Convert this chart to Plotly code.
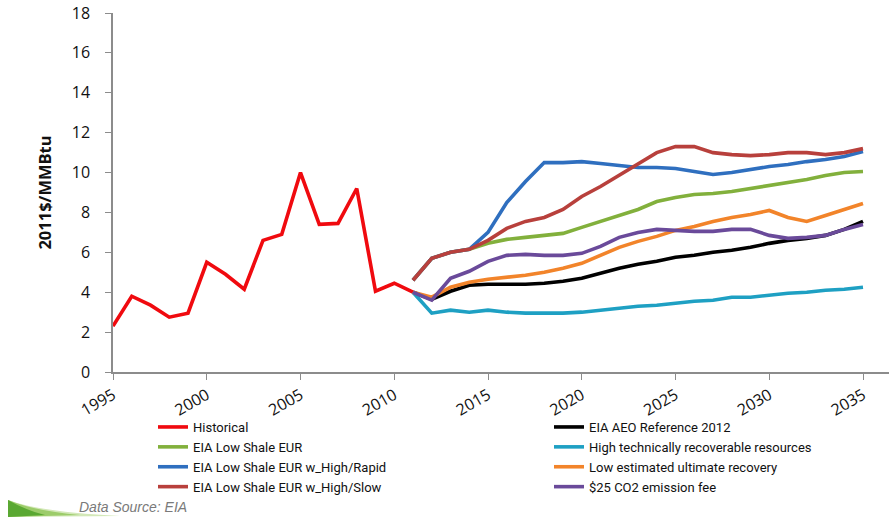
import plotly.graph_objects as go

# Historical Henry Hub price, 1995-2011 (2011 $/MMBtu)
hist_years = list(range(1995, 2012))
hist_vals = [2.3, 3.8, 3.35, 2.75, 2.95, 5.5, 4.9, 4.15, 6.6, 6.9,
             10.0, 7.4, 7.45, 9.2, 4.05, 4.45, 4.0]

# Projection scenarios, 2011-2035
proj_years = list(range(2011, 2036))
ref_2012 = [4.0, 3.65, 4.05, 4.35, 4.4, 4.4, 4.4, 4.45, 4.55, 4.7, 4.95, 5.2, 5.4,
            5.55, 5.75, 5.85, 6.0, 6.1, 6.25, 6.45, 6.6, 6.7, 6.85, 7.15, 7.55]
high_trr = [4.0, 2.95, 3.1, 3.0, 3.1, 3.0, 2.95, 2.95, 2.95, 3.0, 3.1, 3.2, 3.3,
            3.35, 3.45, 3.55, 3.6, 3.75, 3.75, 3.85, 3.95, 4.0, 4.1, 4.15, 4.25]
low_eur = [4.0, 3.75, 4.25, 4.5, 4.65, 4.75, 4.85, 5.0, 5.2, 5.45, 5.85, 6.25, 6.55,
           6.8, 7.1, 7.3, 7.55, 7.75, 7.9, 8.1, 7.75, 7.55, 7.85, 8.15, 8.45]
co2_fee = [4.0, 3.6, 4.7, 5.05, 5.55, 5.85, 5.9, 5.85, 5.85, 5.95, 6.3, 6.75, 7.0,
           7.15, 7.1, 7.05, 7.05, 7.15, 7.15, 6.85, 6.7, 6.75, 6.85, 7.15, 7.4]
low_shale = [4.6, 5.7, 6.0, 6.15, 6.45, 6.65, 6.75, 6.85, 6.95, 7.25, 7.55, 7.85, 8.15,
             8.55, 8.75, 8.9, 8.95, 9.05, 9.2, 9.35, 9.5, 9.65, 9.85, 10.0, 10.05]
high_rapid = [4.6, 5.7, 6.0, 6.15, 7.0, 8.5, 9.55, 10.5, 10.5, 10.55, 10.45, 10.35, 10.25,
              10.25, 10.2, 10.05, 9.9, 10.0, 10.15, 10.3, 10.4, 10.55, 10.65, 10.8, 11.05]
high_slow = [4.6, 5.7, 6.0, 6.15, 6.6, 7.2, 7.55, 7.75, 8.15, 8.8, 9.3, 9.85, 10.4,
             11.0, 11.3, 11.3, 11.0, 10.9, 10.85, 10.9, 11.0, 11.0, 10.9, 11.0, 11.2]

y_ticks = list(range(0, 20, 2))
x_ticks = list(range(1995, 2040, 5))

# (name, x, y, colour, legend column, rank within column)
series = [
    ("Historical", hist_years, hist_vals, "#f00a0f", "legend", 1),
    ("EIA AEO Reference 2012", proj_years, ref_2012, "#000000", "legend2", 1),
    ("High technically recoverable resources", proj_years, high_trr, "#1ea0c3", "legend2", 2),
    ("Low estimated ultimate recovery", proj_years, low_eur, "#f2842a", "legend2", 3),
    ("$25 CO2 emission fee", proj_years, co2_fee, "#6a4a9a", "legend2", 4),
    ("EIA Low Shale EUR", proj_years, low_shale, "#82b03c", "legend", 2),
    ("EIA Low Shale EUR w_High/Rapid", proj_years, high_rapid, "#2f6fbf", "legend", 3),
    ("EIA Low Shale EUR w_High/Slow", proj_years, high_slow, "#b8403c", "legend", 4),
]

fig = go.Figure()
for name, xs, ys, color, leg, rank in series:
    fig.add_trace(go.Scatter(
        x=xs, y=ys, mode="lines", name=name, legend=leg, legendrank=rank,
        line=dict(color=color, width=3.6),
    ))

W, H = 889, 517
L, R, T, B = 113, 0, 13, 145
plot_w = W - L - R
plot_h = H - T - B


def px_to_paper(px, py):
    return (px - L) / plot_w, (H - B - py) / plot_h


leg_font = dict(family="Roboto, sans-serif", size=13, color="#111111")
l1x, l1y = px_to_paper(153, 412)
l2x, _ = px_to_paper(549, 412)
legend_common = dict(
    orientation="v", xanchor="left", yanchor="top", y=l1y,
    font=leg_font, traceorder="normal", bgcolor="rgba(0,0,0,0)",
    itemwidth=30, tracegroupgap=0,
)

fig.update_layout(
    width=W, height=H,
    margin=dict(l=L, r=R, t=T, b=B),
    paper_bgcolor="white", plot_bgcolor="white",
    font=dict(family="Open Sans, Noto Sans, sans-serif", color="#222222"),
    showlegend=True,
    legend=dict(x=l1x, **legend_common),
    legend2=dict(x=l2x, **legend_common),
)

fig.update_xaxes(
    range=[1995, 1995 + plot_w / 18.75],
    tickvals=x_ticks, ticktext=[str(v) for v in x_ticks],
    tickangle=-30, ticks="outside", ticklen=6, tickcolor="#8c8c8c",
    showline=True, linecolor="#8c8c8c", linewidth=1.5,
    showgrid=False, zeroline=False,
    tickfont=dict(size=16, color="#111111"),
)
fig.update_yaxes(
    range=[0, 18], tickvals=y_ticks,
    ticks="outside", ticklen=6, tickcolor="#8c8c8c",
    showline=True, linecolor="#8c8c8c", linewidth=1.5,
    showgrid=False, zeroline=False, ticklabelstandoff=12,
    tickfont=dict(size=16, color="#111111"),
    title=dict(text="<b>2011$/MMBtu</b>", font=dict(size=16.5, color="#111111"), standoff=16),
)

# green swoosh and source note in the lower-left corner
def swoosh(pts, color):
    p = [px_to_paper(x, y) for x, y in pts]
    fig.add_shape(
        type="path", xref="paper", yref="paper", layer="below",
        path=(f"M{p[0][0]},{p[0][1]} Q{p[1][0]},{p[1][1]} {p[2][0]},{p[2][1]} "
              f"L{p[3][0]},{p[3][1]} Z"),
        fillcolor=color, line=dict(width=0),
    )


swoosh([(8, 500), (40, 512), (120, 516), (8, 517)], "#d3e8b8")
swoosh([(8, 500), (35, 511), (80, 515), (8, 517)], "#9ccc6a")
swoosh([(8, 500), (25, 510), (45, 515), (8, 517)], "#5aa832")

sx, sy = px_to_paper(77, 507)
fig.add_annotation(
    text="<i>Data Source: EIA</i>", xref="paper", yref="paper",
    x=sx, y=sy, xanchor="left", yanchor="middle", showarrow=False,
    font=dict(family="Liberation Sans, Arial, sans-serif", size=14, color="#7a7a7a"),
)

fig.write_html("out.html")
